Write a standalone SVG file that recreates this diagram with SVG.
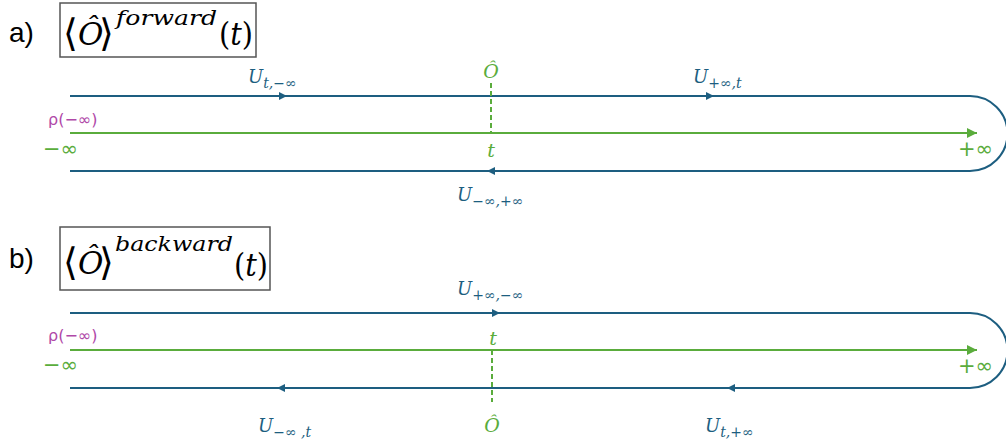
<svg xmlns="http://www.w3.org/2000/svg" width="1006" height="443" viewBox="0 0 1006 443">
<defs>
<style>
.blue{stroke:#1d5e80;stroke-width:2;fill:none}
.green{stroke:#5aac3c;stroke-width:2;fill:none}
.dash{stroke:#5aac3c;stroke-width:2;stroke-dasharray:5,3;fill:none}
.box{fill:#fff;stroke:#555;stroke-width:1.5}
.lbl{font-family:"Liberation Sans",Arial,sans-serif;font-size:28px;fill:#000}
.tex{font-family:"DejaVu Serif","Liberation Serif",serif;font-size:31px;fill:#000}
.br{font-size:38px}
.it{font-style:italic}
.par{font-family:"DejaVu Serif","Liberation Serif",serif;font-size:31px;fill:#000}
.sup{font-family:"DejaVu Serif","Liberation Serif",serif;font-style:italic;font-size:21px;fill:#000}
.u{font-family:"DejaVu Serif","Liberation Serif",serif;font-style:italic;font-size:18px;fill:#1d5e80}
.sub{font-size:14px}
.g{font-family:"DejaVu Sans","Liberation Sans",sans-serif;font-size:21px;fill:#5aac3c}
.gi{font-family:"DejaVu Serif","Liberation Serif",serif;font-style:italic;font-size:19px;fill:#5aac3c}
.rho{font-family:"DejaVu Sans","Liberation Sans",sans-serif;font-size:16px;fill:#b048a8}
</style>
<marker id="ag" viewBox="0 0 10 10" refX="10" refY="5" markerWidth="5" markerHeight="5" orient="auto"><path d="M0,0 L10,5 L0,10 z" fill="#5aac3c"/></marker>
</defs>

<g id="panel-a-title">
<text class="lbl" x="9" y="42">a)</text>
<rect class="box" x="60" y="3" width="196" height="54"/>
<text class="tex" y="46"><tspan class="br" x="63">⟨</tspan><tspan class="it" x="78" dy="-1">Ô</tspan><tspan class="br" x="99" dy="1">⟩</tspan><tspan class="sup" x="116" y="25" textLength="101" lengthAdjust="spacingAndGlyphs">forward</tspan></text>
<text class="par" x="219" y="45" textLength="34" lengthAdjust="spacingAndGlyphs">(<tspan font-style="italic">t</tspan>)</text>
</g>

<g id="panel-b-title">
<text class="lbl" x="9" y="268">b)</text>
<rect class="box" x="60" y="227" width="210" height="63"/>
<text class="tex" y="275"><tspan class="br" x="63">⟨</tspan><tspan class="it" x="78" dy="-1">Ô</tspan><tspan class="br" x="99" dy="1">⟩</tspan><tspan class="sup" x="115" y="251" textLength="118" lengthAdjust="spacingAndGlyphs">backward</tspan></text>
<text class="par" x="234" y="276" textLength="34" lengthAdjust="spacingAndGlyphs">(<tspan font-style="italic">t</tspan>)</text>
</g>

<g id="connectors">
<!-- panel a -->
<path class="blue" d="M70,96 H970 A37.5,37.5 0 0 1 970,171 H70"/>
<line class="green" x1="70" y1="133" x2="977" y2="133" marker-end="url(#ag)"/>
<line class="dash" x1="491" y1="83" x2="491" y2="133"/>
<path d="M279,92 L287,96 L279,100 z" fill="#1d5e80"/>
<path d="M706,92 L714,96 L706,100 z" fill="#1d5e80"/>
<path d="M495,167 L487,171 L495,175 z" fill="#1d5e80"/>
<!-- panel b -->
<path class="blue" d="M70,313 H970 A37.5,37.5 0 0 1 970,388 H70"/>
<line class="green" x1="70" y1="350" x2="977" y2="350" marker-end="url(#ag)"/>
<line class="dash" x1="492" y1="350" x2="492" y2="402"/>
<path d="M492,309 L500,313 L492,317 z" fill="#1d5e80"/>
<path d="M285,384 L277,388 L285,392 z" fill="#1d5e80"/>
<path d="M735,384 L727,388 L735,392 z" fill="#1d5e80"/>
</g>

<g id="labels-a">
<text class="u" x="248" y="83">U<tspan class="sub" dy="5">t,−∞</tspan></text>
<text class="u" x="693" y="83">U<tspan class="sub" dy="5">+∞,t</tspan></text>
<text class="u" x="457" y="201">U<tspan class="sub" dy="5">−∞,+∞</tspan></text>
<text class="gi" x="491" y="78" text-anchor="middle">Ô</text>
<text class="gi" x="491" y="157" text-anchor="middle">t</text>
<text class="rho" x="48" y="125">ρ(−∞)</text>
<text class="g" x="43" y="156">−∞</text>
<text class="g" x="958" y="156">+∞</text>
</g>

<g id="labels-b">
<text class="u" x="457" y="295">U<tspan class="sub" dy="5">+∞,−∞</tspan></text>
<text class="u" x="258" y="432">U<tspan class="sub" dy="5">−∞ ,t</tspan></text>
<text class="u" x="705" y="432">U<tspan class="sub" dy="5">t,+∞</tspan></text>
<text class="gi" x="493" y="345" text-anchor="middle">t</text>
<text class="gi" x="492" y="432" text-anchor="middle">Ô</text>
<text class="rho" x="48" y="341">ρ(−∞)</text>
<text class="g" x="43" y="372">−∞</text>
<text class="g" x="958" y="373">+∞</text>
</g>
</svg>
